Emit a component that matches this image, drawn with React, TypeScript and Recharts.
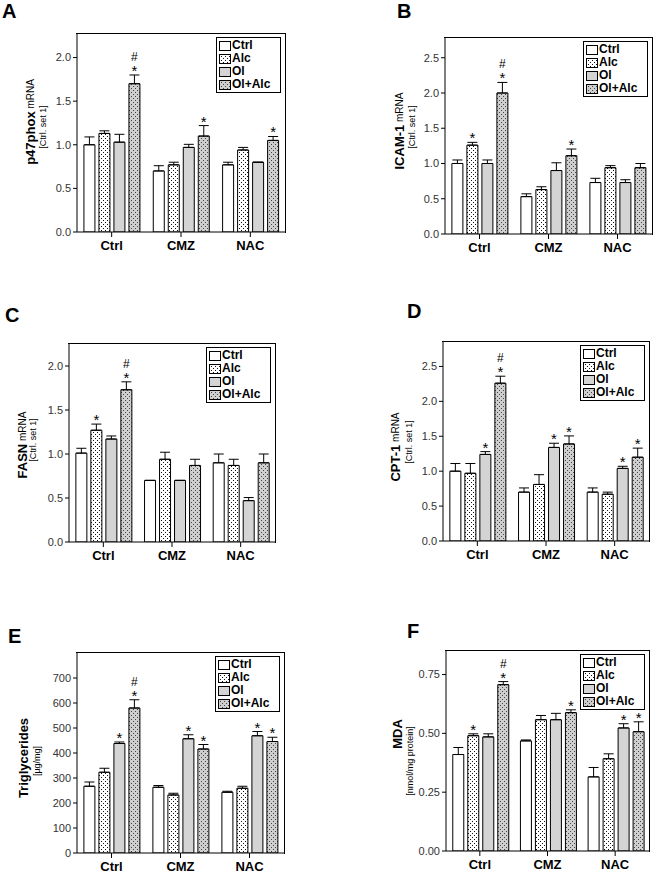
import { BarChart, Bar, XAxis, YAxis, ErrorBar, LabelList, Legend } from 'recharts'

const FONT = '"Liberation Sans", Arial, Helvetica, sans-serif'

const groups = ['Ctrl', 'CMZ', 'NAC']
const seriesNames = ['Ctrl', 'Alc', 'Ol', 'Ol+Alc']

// rows = Ctrl / CMZ / NAC, columns = Ctrl / Alc / Ol / Ol+Alc
const p47Mean = [[1.00, 1.13, 1.03, 1.70], [0.70, 0.77, 0.97, 1.10], [0.77, 0.94, 0.80, 1.05]]
const p47Err = [[0.09, 0.03, 0.09, 0.10], [0.06, 0.03, 0.035, 0.12], [0.03, 0.03, 0, 0.045]]
const p47Mark = [['', '', '', '#*'], ['', '', '', '*'], ['', '', '', '*']]

const icamMean = [[1.00, 1.26, 1.00, 2.00], [0.53, 0.63, 0.90, 1.11], [0.73, 0.94, 0.73, 0.94]]
const icamErr = [[0.05, 0.04, 0.05, 0.15], [0.04, 0.04, 0.11, 0.095], [0.06, 0.03, 0.04, 0.06]]
const icamMark = [['', '*', '', '#*'], ['', '', '', '*'], ['', '', '', '']]

const fasnMean = [[1.01, 1.27, 1.17, 1.73], [0.70, 0.94, 0.70, 0.87], [0.90, 0.87, 0.47, 0.90]]
const fasnErr = [[0.055, 0.07, 0.035, 0.09], [0, 0.08, 0, 0.07], [0.10, 0.07, 0.035, 0.10]]
const fasnMark = [['', '*', '', '#*'], ['', '', '', ''], ['', '', '', '']]

const cptMean = [[1.00, 0.97, 1.24, 2.26], [0.70, 0.81, 1.34, 1.39], [0.70, 0.67, 1.04, 1.20]]
const cptErr = [[0.11, 0.14, 0.04, 0.10], [0.06, 0.14, 0.06, 0.115], [0.06, 0.03, 0.03, 0.13]]
const cptMark = [['', '', '*', '#*'], ['', '', '*', '*'], ['', '', '*', '*']]

const tgMean = [[267, 323, 438, 580], [263, 232, 457, 416], [243, 259, 469, 446]]
const tgErr = [[17, 16, 6, 33], [7, 7, 16, 18], [4, 8, 17, 17]]
const tgMark = [['', '', '*', '#*'], ['', '', '*', '*'], ['', '', '*', '*']]

const mdaMean = [[0.41, 0.49, 0.485, 0.707], [0.468, 0.558, 0.558, 0.588], [0.315, 0.392, 0.523, 0.507]]
const mdaErr = [[0.03, 0.008, 0.013, 0.013], [0.004, 0.018, 0.027, 0.012], [0.04, 0.021, 0.018, 0.042]]
const mdaMark = [['', '*', '', '#*'], ['', '', '', '*'], ['', '', '*', '*']]

const ticksMrna = [0, 0.5, 1, 1.5, 2]
const ticksMrnaWide = [0, 0.5, 1, 1.5, 2, 2.5]
const ticksTg = [0, 100, 200, 300, 400, 500, 600, 700]
const ticksMda = [0, 0.25, 0.5, 0.75]

const fills = ['#ffffff', 'url(#dotW)', '#d4d4d4', 'url(#dotG)']

const AX = 70
const TOP = 6
const RIGHT = 4
const XH = 30

const panels = [
  {
    letter: 'A', lx: 2, ly: 18, frame: { l: 77, t: 34, r: 285, b: 232 },
    means: p47Mean, errs: p47Err, marks: p47Mark, ticks: ticksMrna, max: 2.27, dec: 1,
    lab: [
      { parts: [{ t: 'p47phox', b: true, fs: 13 }, { t: ' mRNA', fs: 10 }], x: 30, y: 122 },
      { parts: [{ t: '[Ctrl. set 1]', fs: 9 }], x: 43, y: 127 },
    ],
  },
  {
    letter: 'B', lx: 397, ly: 18, frame: { l: 445, t: 38, r: 652, b: 234 },
    means: icamMean, errs: icamErr, marks: icamMark, ticks: ticksMrnaWide, max: 2.78, dec: 1,
    lab: [
      { parts: [{ t: 'ICAM-1', b: true, fs: 13 }, { t: ' mRNA', fs: 10 }], x: 399, y: 131 },
      { parts: [{ t: '[Ctrl. set 1]', fs: 9 }], x: 412, y: 127 },
    ],
  },
  {
    letter: 'C', lx: 5, ly: 322, frame: { l: 69, t: 344, r: 275, b: 542 },
    means: fasnMean, errs: fasnErr, marks: fasnMark, ticks: ticksMrna, max: 2.25, dec: 1,
    lab: [
      { parts: [{ t: 'FASN', b: true, fs: 13 }, { t: ' mRNA', fs: 10 }], x: 22, y: 445 },
      { parts: [{ t: '[Ctrl. set 1]', fs: 9 }], x: 33, y: 440 },
    ],
  },
  {
    letter: 'D', lx: 407, ly: 318, frame: { l: 443, t: 342, r: 649, b: 541 },
    means: cptMean, errs: cptErr, marks: cptMark, ticks: ticksMrnaWide, max: 2.85, dec: 1,
    lab: [
      { parts: [{ t: 'CPT-1', b: true, fs: 13 }, { t: ' mRNA', fs: 10 }], x: 395, y: 447 },
      { parts: [{ t: '[Ctrl. set 1]', fs: 9 }], x: 409, y: 442 },
    ],
  },
  {
    letter: 'E', lx: 8, ly: 643, frame: { l: 77, t: 653, r: 284, b: 853 },
    means: tgMean, errs: tgErr, marks: tgMark, ticks: ticksTg, max: 800, dec: 0,
    lab: [
      { parts: [{ t: 'Triglycerides', b: true, fs: 13 }], x: 23, y: 758 },
      { parts: [{ t: '[µg/mg]', fs: 9 }], x: 37, y: 761 },
    ],
  },
  {
    letter: 'F', lx: 407, ly: 638, frame: { l: 446, t: 651, r: 649, b: 851 },
    means: mdaMean, errs: mdaErr, marks: mdaMark, ticks: ticksMda, max: 0.85, dec: 2,
    lab: [
      { parts: [{ t: 'MDA', b: true, fs: 13 }], x: 397, y: 734 },
      { parts: [{ t: '[nmol/mg protein]', fs: 9 }], x: 410, y: 761 },
    ],
  },
]

function renderLegend() {
  return (
    <div style={{
      width: 65, height: 56, boxSizing: 'border-box', border: '1px solid #000', background: '#fff',
      padding: '1px 2px', fontFamily: FONT, fontWeight: 'bold', fontSize: 12, color: '#000',
    }}>
      {seriesNames.map((n, s) => (
        <div key={n} style={{ display: 'flex', alignItems: 'center', height: 13, lineHeight: '13px' }}>
          <svg width={12} height={10} style={{ marginRight: 1, flex: 'none' }}>
            <rect x={0.5} y={0.5} width={11} height={9} fill={fills[s]} stroke="#000" />
          </svg>
          <span>{n}</span>
        </div>
      ))}
    </div>
  )
}

function Panel({ p }: { p: any }) {
  const fw = p.frame.r - p.frame.l
  const fh = p.frame.b - p.frame.t
  const ox = p.frame.l - AX
  const oy = p.frame.t - TOP
  const data = groups.map((g, i) => {
    const row: any = { group: g }
    seriesNames.forEach((_, s) => {
      row['v' + s] = p.means[i][s]
      row['e' + s] = [0, p.errs[i][s]]
      row['m' + s] = 'i' + i
    })
    return row
  })

  const renderMark = (lp: any, s: number) => {
    const i = typeof lp.index === 'number' ? lp.index : Number(String(lp.value).slice(1))
    const m = p.marks[i][s]
    if (!m) return null
    const x = lp.x ?? lp.viewBox?.x
    const y = lp.y ?? lp.viewBox?.y
    const w = lp.width ?? lp.viewBox?.width
    const h = lp.height ?? lp.viewBox?.height
    const top = y - (p.errs[i][s] / p.means[i][s]) * h
    const cx = x + w / 2
    return (
      <g key={'mk' + i + s}>
        <text x={cx} y={top + 1} textAnchor="middle" fontSize={15} fontFamily={FONT} fill="#000">*</text>
        {m.includes('#') && (
          <text x={cx} y={top - 14} textAnchor="middle" fontSize={12} fontFamily={FONT} fill="#000">#</text>
        )}
      </g>
    )
  }

  const renderYLabel = () => (
    <g>
      {p.lab.map((ln: any, k: number) => {
        const x = ln.x - ox
        const y = ln.y - oy
        return (
          <text key={k} x={x} y={y} transform={`rotate(-90 ${x} ${y})`} textAnchor="middle"
            dominantBaseline="central" fontFamily={FONT} fill="#000">
            {ln.parts.map((pt: any, j: number) => (
              <tspan key={j} fontSize={pt.fs} fontWeight={pt.b ? 'bold' : 'normal'}>{pt.t}</tspan>
            ))}
          </text>
        )
      })}
    </g>
  )

  return (
    <div style={{ position: 'absolute', left: ox, top: oy }}>
      <BarChart width={fw + AX + RIGHT} height={fh + TOP + XH} data={data}
        margin={{ top: TOP, right: RIGHT, left: 0, bottom: 0 }} barCategoryGap="10%" barGap={4}>
        <XAxis dataKey="group" height={XH} interval={0} tickSize={5} tickMargin={4}
          axisLine={{ stroke: '#000' }} tickLine={{ stroke: '#000' }}
          tick={{ fill: '#000', fontSize: 13, fontWeight: 'bold', fontFamily: FONT }} />
        <YAxis type="number" domain={[0, p.max]} ticks={p.ticks} allowDataOverflow width={AX}
          tickSize={4} tickMargin={2} interval={0}
          axisLine={{ stroke: '#000' }} tickLine={{ stroke: '#000' }}
          tick={{ fill: '#333', fontSize: 11, fontFamily: FONT }}
          tickFormatter={(v: number) => v.toFixed(p.dec)}
          label={renderYLabel} />
        {seriesNames.map((n, s) => (
          <Bar key={n} dataKey={'v' + s} name={n} fill={fills[s]} stroke="#000" strokeWidth={1}
            isAnimationActive={false}>
            <ErrorBar dataKey={'e' + s} width={5} stroke="#000" strokeWidth={1} direction="y" />
            <LabelList dataKey={'m' + s} content={(lp: any) => renderMark(lp, s)} />
          </Bar>
        ))}
        <Legend layout="vertical" align="center" verticalAlign="middle" content={renderLegend}
          wrapperStyle={{ left: p.frame.r - 4 - 65 - ox, top: p.frame.t + 3 - oy, width: 65, height: 56 }} />
      </BarChart>
      {/* plot box outline (top and right edges) */}
      <div style={{
        position: 'absolute', left: AX - 1, top: TOP - 1, width: fw + 1, height: fh + 1,
        borderTop: '1px solid #000', borderRight: '1px solid #000', pointerEvents: 'none',
      }} />
    </div>
  )
}

export default function App() {
  return (
    <div style={{ position: 'absolute', left: 0, top: 0, width: 654, height: 871, background: '#fff', overflow: 'hidden' }}>
      <svg width={0} height={0} style={{ position: 'absolute' }}>
        <defs>
          <pattern id="dotW" width={4} height={4} patternUnits="userSpaceOnUse">
            <rect width={4} height={4} fill="#fff" />
            <rect x={0} y={0} width={1} height={1} fill="#111" />
            <rect x={2} y={2} width={1} height={1} fill="#111" />
          </pattern>
          <pattern id="dotG" width={4} height={4} patternUnits="userSpaceOnUse">
            <rect width={4} height={4} fill="#cfcfcf" />
            <rect x={0} y={0} width={1} height={1} fill="#444" />
            <rect x={2} y={2} width={1} height={1} fill="#444" />
          </pattern>
        </defs>
      </svg>
      {panels.map((p) => (
        <div key={p.letter}>
          <div style={{
            position: 'absolute', left: p.lx, top: p.ly - 17, fontFamily: FONT, fontWeight: 'bold',
            fontSize: 20, lineHeight: '20px', color: '#000',
          }}>{p.letter}</div>
          <Panel p={p} />
        </div>
      ))}
    </div>
  )
}
